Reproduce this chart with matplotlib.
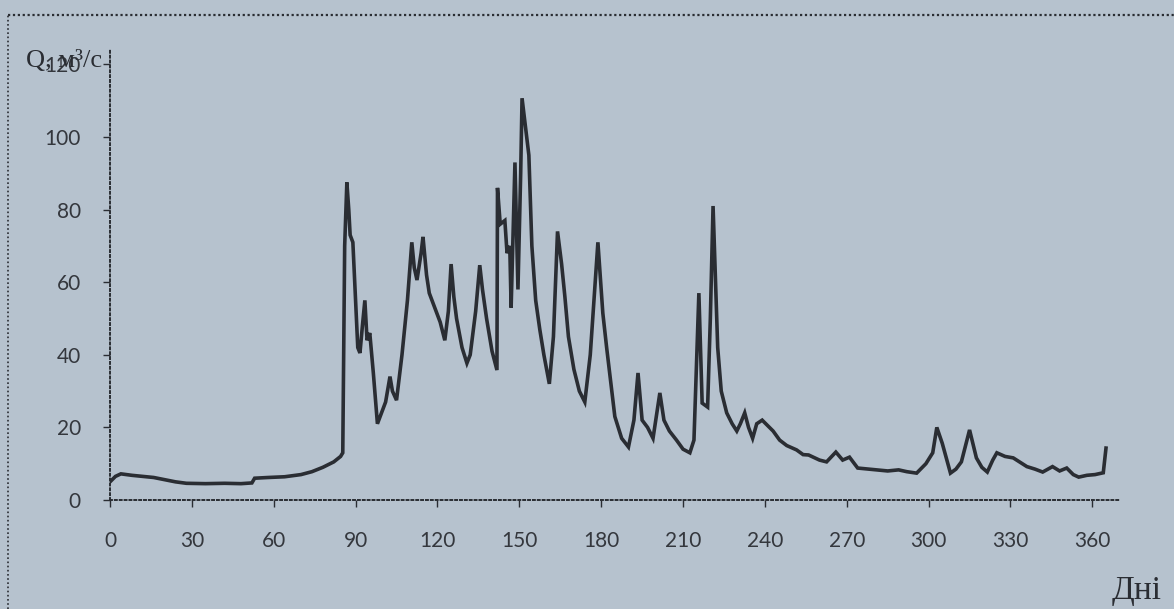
import matplotlib
matplotlib.use("Agg")
import matplotlib.pyplot as plt
from matplotlib.lines import Line2D

# daily discharge (day of year, Q in m3/s)
days = [0, 2, 4, 8, 12, 16, 20, 24, 28, 35, 42, 48, 52, 53, 58, 64, 70, 74, 78, 82,
        84.5, 85.3, 86, 86.8, 87.5, 88, 89, 90, 90.8, 91.6, 92.5, 93.4, 94.2, 95.2,
        96.5, 98, 99.5, 101, 102.6, 103.5, 105, 107, 109, 110.6, 111.5, 112.5, 114,
        114.7, 116, 117, 119, 121, 122.7, 124, 125, 126, 127, 129, 130.8, 132, 134,
        135.5, 136.5, 138, 140, 141.8, 142, 143, 144.7, 145.5, 146.5, 147, 148.4,
        149.5, 150.5, 151, 152.7, 153.5, 154.6, 156, 157.5, 159, 161, 162.5, 164,
        165.5, 166.7, 168, 170, 172, 174, 176, 178.8, 180.6, 182, 185, 187.5, 190,
        192, 193.5, 195, 197, 199, 201.5, 203, 205, 207.6, 210, 212.5, 214, 215.8,
        217, 219, 220, 221, 222.7, 224, 226, 228, 229.7, 231, 232.6, 234, 235.5,
        237, 239, 241.7, 243, 245.4, 248, 251.6, 254, 256, 260, 262.6, 266, 268.5,
        271, 274, 278, 281, 285, 289, 292, 295.6, 299, 301.5, 303, 305, 308, 310,
        312, 315, 317.5, 319.5, 321.5, 323.5, 325, 328, 331, 336, 339, 341.8, 345.4,
        348, 350.6, 353, 355, 358, 361, 364, 365]
flow = [5.0, 6.5, 7.2, 6.8, 6.5, 6.2, 5.6, 5.0, 4.6, 4.5, 4.6, 4.5, 4.7, 6.0, 6.2,
        6.4, 7.0, 7.8, 9.0, 10.5, 12.0, 13, 70, 87.5, 80, 73, 71, 55, 42, 40.5, 48,
        55, 44, 46, 35, 21, 24, 27, 34, 30, 27.5, 40, 55, 71, 64, 60.6, 68, 72.5,
        62, 57, 53, 49, 44, 52, 65, 56, 50, 42, 37.7, 40, 52, 64.7, 58, 50, 41,
        35.8, 86, 76, 77, 68, 70, 53, 93, 58, 90, 110.7, 100, 95, 70, 55, 47, 40,
        32, 45, 74, 65, 56, 45, 36, 30, 27, 40, 71, 51.5, 42, 23, 17, 14.6, 22, 35,
        22, 20, 17, 29.5, 22, 19, 16.5, 14, 13, 16.5, 57, 26.7, 25.6, 50, 81, 42,
        30, 24, 21, 19, 21, 24, 20, 17, 21, 22, 20, 19, 16.5, 15, 13.8, 12.5, 12.4,
        11, 10.5, 13.2, 11, 11.8, 8.8, 8.5, 8.3, 8.0, 8.3, 7.8, 7.4, 10, 13, 20,
        15.6, 7.4, 8.5, 10.5, 19.3, 11.6, 9, 7.7, 11, 13, 12, 11.6, 9.2, 8.5, 7.7,
        9.2, 8, 8.8, 7, 6.3, 6.8, 7.0, 7.5, 14.3]

x_ticks = list(range(0, 361, 30))
y_ticks = list(range(0, 121, 20))

bg = "#b6c2ce"
ink = "#2a2d33"

fig = plt.figure(figsize=(11.74, 6.09), dpi=100, facecolor=bg)
ax = fig.add_axes([0.0937, 0.179, 0.860, 0.739], facecolor=bg)

ax.plot(days, flow, color=ink, lw=2.6, solid_joinstyle="miter")

ax.set_xlim(0, 370)
ax.set_ylim(0, 124)
ax.set_xticks(x_ticks)
ax.set_yticks(y_ticks)

for side in ("top", "right"):
    ax.spines[side].set_visible(False)
for side in ("left", "bottom"):
    ax.spines[side].set_linestyle((0, (1, 1.5)))
    ax.spines[side].set_color(ink)
    ax.spines[side].set_linewidth(1.4)

ax.tick_params(axis="both", direction="out", length=5, width=1, color=ink,
               labelsize=15, labelcolor="#34373d")
ax.tick_params(axis="x", pad=17)
ax.tick_params(axis="y", pad=16)
for lab in ax.get_xticklabels() + ax.get_yticklabels():
    lab.set_family(["Lato", "DejaVu Sans"])

# dotted frame of the printed figure
fig.add_artist(Line2D([0.007, 1.0], [0.975, 0.975], transform=fig.transFigure,
                      color=ink, lw=1.6, ls=(0, (1, 1.2))))
fig.add_artist(Line2D([0.007, 0.007], [0.0, 0.975], transform=fig.transFigure,
                      color=ink, lw=1.2, ls=(0, (1, 1.5))))

fig.text(0.022, 0.89, "Q, м³/с", fontsize=19, color=ink,
         family=["Liberation Serif", "DejaVu Serif"])
fig.text(0.947, 0.016, "Дні", fontsize=24, color=ink,
         family=["Liberation Serif", "DejaVu Serif"])

fig.savefig("out.png", dpi=100, facecolor=bg)
